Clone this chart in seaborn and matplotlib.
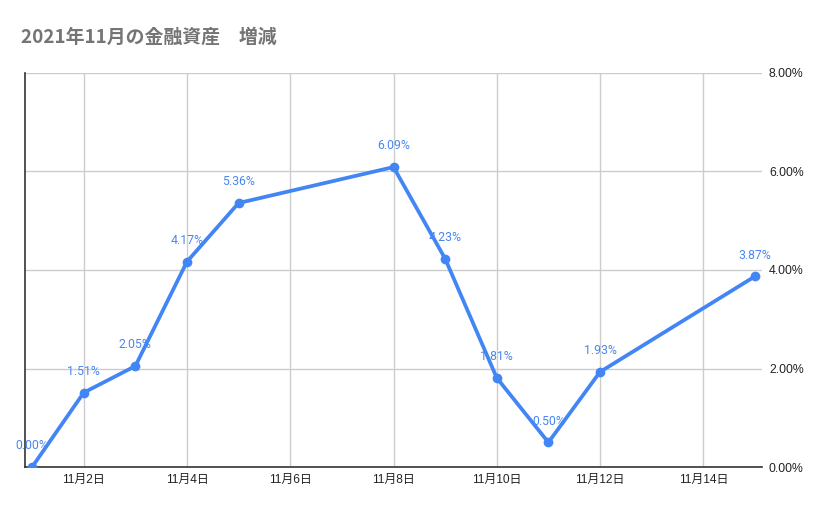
import matplotlib
matplotlib.use("Agg")
import matplotlib.pyplot as plt
import seaborn as sns
import pandas as pd
from matplotlib.ticker import FuncFormatter

dates = ["2021-11-01", "2021-11-02", "2021-11-03", "2021-11-04", "2021-11-05",
         "2021-11-08", "2021-11-09", "2021-11-10", "2021-11-11", "2021-11-12",
         "2021-11-15"]
values = [0.00, 1.51, 2.05, 4.17, 5.36, 6.09, 4.23, 1.81, 0.50, 1.93, 3.87]
tick_dates = ["2021-11-02", "2021-11-04", "2021-11-06", "2021-11-08",
              "2021-11-10", "2021-11-12", "2021-11-14"]
y_ticks = [0, 2, 4, 6, 8]
title = "2021年11月の金融資産　増減"

sns.set_theme(style="white")
plt.rcParams['font.family'] = ['Liberation Sans', 'Noto Sans CJK JP', 'DejaVu Sans']

df = pd.DataFrame({"date": pd.to_datetime(dates), "value": values})

fig = plt.figure(figsize=(8.29, 5.14), dpi=100)
ax = fig.add_axes([25/829, 1-467/514, (762-25)/829, (467-73)/514])

blue = "#4285F4"
sns.lineplot(data=df, x="date", y="value", ax=ax, color=blue, linewidth=2.7,
             marker="o", markersize=7, markeredgewidth=0, zorder=3)

for d, v in zip(df["date"], df["value"]):
    ax.annotate(f"{v:.2f}%", (d, v), xytext=(0, 10.5), textcoords="offset points",
                ha="center", va="bottom", fontsize=8.8, color="#4a86f0",
                family=['Roboto', 'DejaVu Sans'], zorder=4)

start = pd.Timestamp("2021-11-01") - pd.Timedelta(hours=3.3)
end = pd.Timestamp("2021-11-15") + pd.Timedelta(hours=3.3)
ax.set_xlim(start, end)
ax.set_ylim(0, 8)

td = pd.to_datetime(tick_dates)
ax.set_xticks(td)
ax.set_xticklabels([f"{d.month}月{d.day}日" for d in td], fontsize=8.6, color="#222222")
ax.set_yticks(y_ticks)
ax.yaxis.set_major_formatter(FuncFormatter(lambda v, p: f"{v:.2f}%"))
ax.yaxis.tick_right()
ax.tick_params(axis='y', length=0, pad=5, labelsize=8.8, labelcolor="#222222")
ax.tick_params(axis='x', length=0, pad=5)

ax.grid(True, color="#cccccc", linewidth=1)
for s in ["top", "right"]:
    ax.spines[s].set_visible(False)
ax.spines["left"].set_color("#333333")
ax.spines["bottom"].set_color("#333333")
ax.spines["left"].set_linewidth(1.2)
ax.spines["bottom"].set_linewidth(1.2)
ax.set_xlabel("")
ax.set_ylabel("")

fig.text(21/829, 1-37/514, title, fontsize=13.6, fontweight="bold", color="#757575",
         family=['Noto Sans CJK JP', 'DejaVu Sans'], va="center", ha="left")

fig.savefig("out.png", dpi=100)
